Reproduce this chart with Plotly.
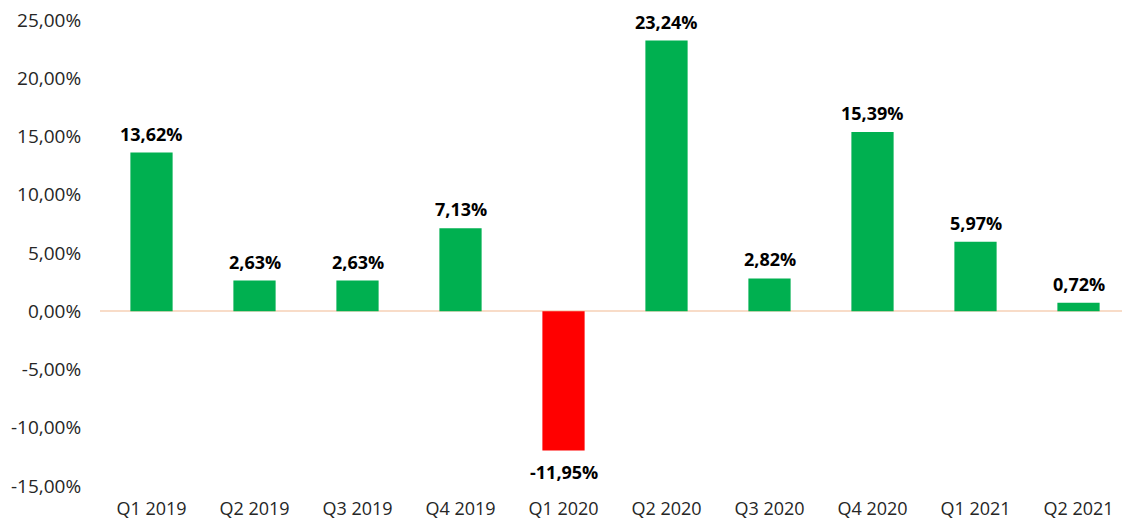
import plotly.graph_objects as go

categories = ["Q1 2019", "Q2 2019", "Q3 2019", "Q4 2019", "Q1 2020",
              "Q2 2020", "Q3 2020", "Q4 2020", "Q1 2021", "Q2 2021"]
values = [13.62, 2.63, 2.63, 7.13, -11.95, 23.24, 2.82, 15.39, 5.97, 0.72]
tick_vals = [-15, -10, -5, 0, 5, 10, 15, 20, 25]

def fmt(v):
    return f"{v:.2f}".replace(".", ",") + "%"

labels = [fmt(v) for v in values]
tick_text = [fmt(v) for v in tick_vals]
colors = ["#00B050" if v >= 0 else "#FF0000" for v in values]

FONT = "Open Sans, Calibri, sans-serif"

fig = go.Figure(go.Bar(
    x=categories, y=values, marker_color=colors, marker_line_width=0,
    hoverinfo="x+y",
))
for c, v, t in zip(categories, values, labels):
    fig.add_annotation(
        x=c, y=v, text=f"<b>{t}</b>", showarrow=False,
        yanchor="bottom" if v >= 0 else "top",
        yshift=5 if v >= 0 else -8,
        font=dict(family=FONT, size=18, color="#000000"),
    )
# page body has an 8px margin, so the figure is sized/offset to compensate
fig.update_layout(
    width=1122, height=513,
    margin=dict(l=92, r=0, t=12, b=35),
    plot_bgcolor="white", paper_bgcolor="white",
    bargap=0.59, showlegend=False,
    font=dict(family=FONT, size=18, color="#262626"),
)
fig.update_yaxes(range=[-15, 25], tickvals=tick_vals, ticktext=tick_text, automargin=False,
                 ticklabeloverflow="allow",
                 showgrid=False, zeroline=True, zerolinecolor="#F8DCC8", zerolinewidth=1.5,
                 ticks="outside", ticklen=14, tickcolor="rgba(0,0,0,0)",
                 tickfont=dict(family=FONT, size=19, color="#262626"))
fig.update_xaxes(showgrid=False, showline=False, range=[-0.5, 9.5], automargin=False,
                 ticklabeloverflow="allow",
                 ticks="outside", ticklen=6, tickcolor="rgba(0,0,0,0)",
                 tickfont=dict(family=FONT, size=18, color="#262626"))
fig.write_html("out.html")
